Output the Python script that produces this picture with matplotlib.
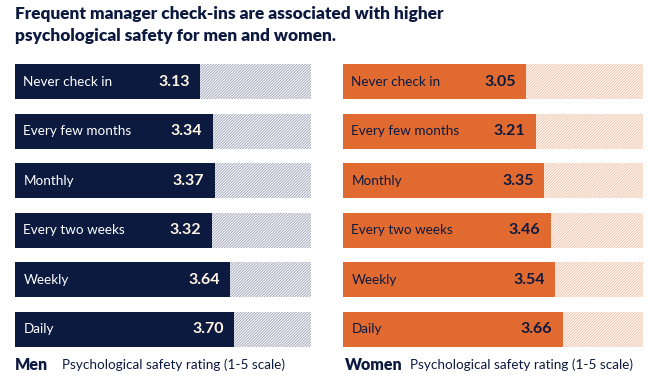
import matplotlib.pyplot as plt

# Datos
categorias = ["Never check in", "Every few months", "Monthly",
              "Every two weeks", "Weekly", "Daily"]
hombres = [3.13, 3.34, 3.37, 3.32, 3.64, 3.70]
mujeres = [3.05, 3.21, 3.35, 3.46, 3.54, 3.66]
escala_max = 5

navy = "#0c1a40"
naranja = "#e06a2f"

plt.rcParams["font.family"] = ["Lato", "DejaVu Sans"]
plt.rcParams["hatch.linewidth"] = 0.7

fig = plt.figure(figsize=(6.5, 3.77), dpi=100)

W, H = 650, 377
abajo = 1 - 347 / H
alto = (347 - 64) / H
ax_h = fig.add_axes([15 / W, abajo, 296 / W, alto])
ax_m = fig.add_axes([343 / W, abajo, 300 / W, alto])


def panel(ax, valores, color, color_rayas, color_texto, color_valor):
    y = list(range(len(categorias)))
    # fondo rayado hasta el máximo de la escala
    ax.barh(y, [escala_max] * len(y), height=0.706, color="white",
            edgecolor=color_rayas, hatch="/" * 12, linewidth=0)
    ax.barh(y, valores, height=0.706, color=color, linewidth=0)
    for i, (cat, v) in enumerate(zip(categorias, valores)):
        ax.annotate(cat, (0, i), xytext=(6, 0), textcoords="offset points",
                    va="center", ha="left", fontsize=9.7, color=color_texto)
        ax.annotate(f"{v:.2f}", (v, i), xytext=(-7.5, 0),
                    textcoords="offset points", va="center", ha="right",
                    fontsize=11.5, fontweight="bold", color=color_valor)
    ax.set_xlim(0, escala_max)
    ax.set_ylim(len(y) - 1 + 0.353, -0.353)
    ax.axis("off")


panel(ax_h, hombres, navy, "#a3a8bc", "white", "#fff6e4")
panel(ax_m, mujeres, naranja, "#f6c2a6", navy, navy)

fig.text(15 / W, 1 - 6 / H,
         "Frequent manager check-ins are associated with higher\n"
         "psychological safety for men and women.",
         ha="left", va="top", fontsize=12.4, fontweight="heavy", color=navy,
         linespacing=1.45)

yb = 1 - 365 / H
fig.text(15 / W, yb, "Men", ha="left", va="center", fontsize=11.5,
         fontweight="heavy", color=navy)
fig.text(62 / W, yb, "Psychological safety rating (1-5 scale)", ha="left",
         va="center", fontsize=9.7, color=navy)
fig.text(345 / W, yb, "Women", ha="left", va="center", fontsize=11.5,
         fontweight="heavy", color=navy)
fig.text(410 / W, yb, "Psychological safety rating (1-5 scale)", ha="left",
         va="center", fontsize=9.7, color=navy)

fig.savefig("out.png", dpi=100)
